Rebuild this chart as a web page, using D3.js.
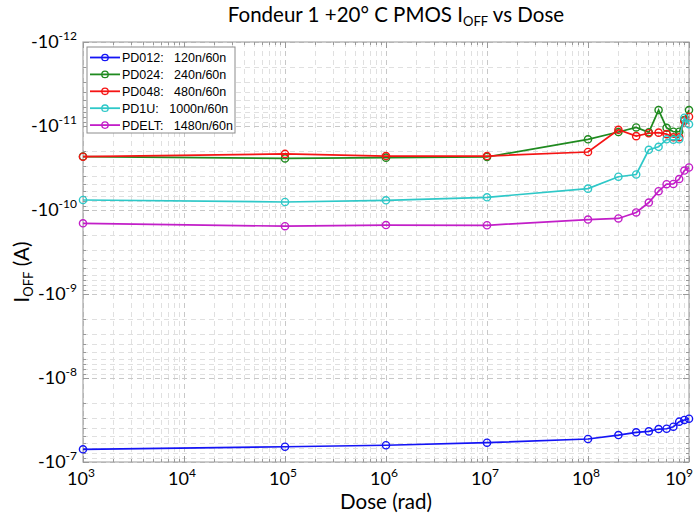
<!DOCTYPE html>
<html><head><meta charset="utf-8">
<script src="https://cdn.jsdelivr.net/npm/d3@7"></script>
<style>
html,body{margin:0;padding:0;background:#fff;}
svg{display:block;}
text{font-family:Lato,"Open Sans",sans-serif;}
</style></head>
<body>
<script>
// ---- data ----
const doses = [1e3, 1e5, 1e6, 1e7, 1e8, 2e8, 3e8, 4e8, 5e8, 6e8, 7e8, 8e8, 9e8, 1e9];
const pd012 = [-7.06e-8, -6.58e-8, -6.32e-8, -5.89e-8, -5.32e-8, -4.78e-8, -4.43e-8, -4.32e-8, -4.05e-8, -4.02e-8, -3.80e-8, -3.31e-8, -3.16e-8, -3.05e-8];
const pd024 = [-2.31e-11, -2.43e-11, -2.38e-11, -2.34e-11, -1.44e-11, -1.18e-11, -1.04e-11, -1.19e-11, -6.46e-12, -1.05e-11, -1.17e-11, -1.17e-11, -8.48e-12, -6.46e-12];
const pd048 = [-2.32e-11, -2.15e-11, -2.28e-11, -2.28e-11, -2.04e-11, -1.11e-11, -1.32e-11, -1.22e-11, -1.20e-11, -1.25e-11, -1.36e-11, -1.36e-11, -8.71e-12, -7.75e-12];
const pd1u  = [-7.60e-11, -8.03e-11, -7.67e-11, -7.06e-11, -5.57e-11, -4.02e-11, -3.78e-11, -1.92e-11, -1.77e-11, -1.44e-11, -1.46e-11, -1.44e-11, -7.96e-12, -9.55e-12];
const pdelt = [-1.44e-10, -1.56e-10, -1.51e-10, -1.52e-10, -1.30e-10, -1.26e-10, -1.07e-10, -8.15e-11, -5.97e-11, -4.93e-11, -4.90e-11, -4.28e-11, -3.39e-11, -3.12e-11];
const seriesNames = ["PD012:   120n/60n", "PD024:   240n/60n", "PD048:   480n/60n", "PD1U:   1000n/60n", "PDELT:   1480n/60n"];
const seriesColors = ["#1414f5", "#1f8a1f", "#f51414", "#2ec8c8", "#c21ec8"];
const seriesValues = [pd012, pd024, pd048, pd1u, pdelt];
const xTickExps = [3, 4, 5, 6, 7, 8, 9];
const yTickExps = [-12, -11, -10, -9, -8, -7];
const titleText = ["Fondeur 1 +20° C PMOS I", "OFF", " vs Dose"];
const xLabel = "Dose (rad)";
const yLabel = ["I", "OFF", " (A)"];

// ---- layout ----
const W = 694, H = 515;
const L = 83, R = 689, T = 42, B = 462;
const svg = d3.select("body").append("svg").attr("width", W).attr("height", H);

const x = d3.scaleLog().domain([1e3, 1e9]).range([L, R]);
const y = d3.scaleLog().domain([-1e-12, -1e-7]).range([T, B]);

// grid
const g = svg.append("g");
const xMinor = x.ticks();
const yMinor = y.ticks();
const isMajor = v => Math.abs(Math.log10(Math.abs(v)) - Math.round(Math.log10(Math.abs(v)))) < 1e-9;
g.selectAll("line.gx").data(xMinor).join("line")
  .attr("x1", d => x(d)).attr("x2", d => x(d)).attr("y1", T).attr("y2", B)
  .attr("stroke", d => isMajor(d) ? "#c8c8c8" : "#e0e0e0").attr("stroke-width", 1)
  .attr("stroke-dasharray", "5,4").attr("shape-rendering", "crispEdges");
g.selectAll("line.gy").data(yMinor).join("line")
  .attr("y1", d => y(d)).attr("y2", d => y(d)).attr("x1", L).attr("x2", R)
  .attr("stroke", d => isMajor(d) ? "#c8c8c8" : "#e0e0e0").attr("stroke-width", 1)
  .attr("stroke-dasharray", "5,4").attr("shape-rendering", "crispEdges");

// axis box
svg.append("rect").attr("x", L).attr("y", T).attr("width", R - L).attr("height", B - T)
  .attr("fill", "none").attr("stroke", "#a8a8a8").attr("stroke-width", 1.2);

// ticks (inward, all four sides)
const tk = svg.append("g").attr("stroke", "#999").attr("stroke-width", 1).attr("shape-rendering", "crispEdges");
xMinor.forEach(d => {
  const len = isMajor(d) ? 6 : 3;
  tk.append("line").attr("x1", x(d)).attr("x2", x(d)).attr("y1", B).attr("y2", B - len);
  tk.append("line").attr("x1", x(d)).attr("x2", x(d)).attr("y1", T).attr("y2", T + len);
});
yMinor.forEach(d => {
  const len = isMajor(d) ? 6 : 3;
  tk.append("line").attr("y1", y(d)).attr("y2", y(d)).attr("x1", L).attr("x2", L + len);
  tk.append("line").attr("y1", y(d)).attr("y2", y(d)).attr("x1", R).attr("x2", R - len);
});

// tick labels
xTickExps.forEach((e, i) => {
  const last = i === xTickExps.length - 1;
  const t = svg.append("text").attr("x", last ? 693 : x(Math.pow(10, e)) - 2).attr("y", 485)
    .attr("text-anchor", last ? "end" : "middle").attr("font-size", 18).attr("fill", "#000");
  t.append("tspan").text("10");
  t.append("tspan").attr("dy", -8).attr("font-size", 12).text(String(e));
});
yTickExps.forEach(e => {
  const t = svg.append("text").attr("x", 77).attr("y", y(-Math.pow(10, e)) + 6)
    .attr("text-anchor", "end").attr("font-size", 18).attr("fill", "#000");
  t.append("tspan").text("-10");
  t.append("tspan").attr("dy", -8).attr("font-size", 12).text(String(e));
});

// lines & markers
const line = d3.line().x((d, i) => x(doses[i])).y(d => y(d));
seriesValues.forEach((vals, si) => {
  const c = seriesColors[si];
  svg.append("path").datum(vals).attr("d", line).attr("fill", "none")
    .attr("stroke", c).attr("stroke-width", 1.7);
  svg.append("g").selectAll("circle").data(vals).join("circle")
    .attr("cx", (d, i) => x(doses[i])).attr("cy", d => y(d)).attr("r", 3.6)
    .attr("fill", "none").attr("stroke", c).attr("stroke-width", 1.4);
});

// legend
const lg = svg.append("g");
lg.append("rect").attr("x", 87).attr("y", 47).attr("width", 148).attr("height", 86)
  .attr("fill", "#fff").attr("stroke", "#8c8c8c").attr("stroke-width", 1);
seriesNames.forEach((n, i) => {
  const yy = 57.5 + i * 16.9;
  lg.append("line").attr("x1", 90).attr("x2", 120).attr("y1", yy).attr("y2", yy)
    .attr("stroke", seriesColors[i]).attr("stroke-width", 1.8);
  lg.append("circle").attr("cx", 105).attr("cy", yy).attr("r", 3.2)
    .attr("fill", "none").attr("stroke", seriesColors[i]).attr("stroke-width", 1.3);
  lg.append("text").attr("x", 122).attr("y", yy + 4.5).attr("font-size", 12.5)
    .attr("style", "font-family:'Liberation Sans',Arial,sans-serif;white-space:pre")
    .attr("fill", "#000").text(n);
});

// title
const tt = svg.append("text").attr("x", 396).attr("y", 22).attr("text-anchor", "middle")
  .attr("font-size", 20.5).attr("fill", "#000");
tt.append("tspan").text(titleText[0]);
tt.append("tspan").attr("dy", 4).attr("font-size", 13).text(titleText[1]);
tt.append("tspan").attr("dy", -4).text(titleText[2]);

// x label
svg.append("text").attr("x", 386).attr("y", 509).attr("text-anchor", "middle")
  .attr("font-size", 20.5).attr("fill", "#000").text(xLabel);

// y label
const yl = svg.append("text").attr("transform", "translate(29,272) rotate(-90)")
  .attr("text-anchor", "middle").attr("font-size", 20.5).attr("fill", "#000");
yl.append("tspan").text(yLabel[0]);
yl.append("tspan").attr("dy", 4).attr("font-size", 13).text(yLabel[1]);
yl.append("tspan").attr("dy", -4).text(yLabel[2]);
</script>
</body></html>
